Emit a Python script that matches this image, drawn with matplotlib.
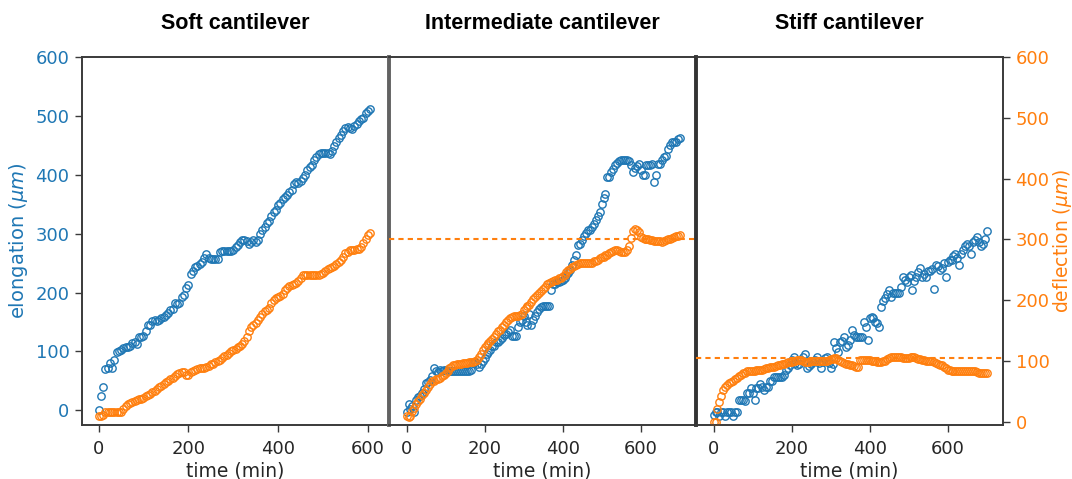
import matplotlib
matplotlib.use("Agg")
import matplotlib.pyplot as plt
import numpy as np

# sampling every 5 minutes
time_soft = np.arange(0, 610, 5)
time_mid = np.arange(0, 705, 5)
time_stiff = np.arange(0, 705, 5)

elong_soft = [0, 25, 40, 70, 72, 80, 72, 86, 99, 100, 102, 106, 108, 108, 110, 114, 116, 112, 124, 125,
              126, 135, 144, 145, 152, 153, 152, 153, 157, 158, 162, 165, 170, 172, 182, 180, 183, 192, 196, 207,
              213, 232, 236, 243, 245, 249, 252, 258, 266, 259, 257, 257, 257, 257, 268, 270, 270, 270, 270, 270,
              273, 277, 280, 286, 289, 290, 288, 282, 286, 290, 286, 290, 300, 306, 312, 318, 322, 330, 336, 340,
              348, 352, 358, 362, 366, 370, 374, 385, 388, 386, 390, 395, 400, 408, 413, 417, 425, 430, 436, 437,
              437, 437, 437, 436, 440, 448, 455, 462, 468, 474, 480, 481, 480, 478, 483, 486, 492, 495, 497, 505,
              508, 511]
defl_soft = [9, 10, 12, 16, 16, 17, 17, 17, 17, 17, 17, 22, 27, 29, 31, 33, 35, 36, 37, 38,
             39, 42, 45, 46, 49, 51, 54, 57, 59, 62, 65, 67, 70, 73, 76, 79, 80, 82, 82, 78,
             78, 82, 84, 86, 87, 88, 88, 89, 90, 92, 95, 96, 98, 100, 102, 105, 108, 110, 113, 116,
             118, 120, 123, 125, 128, 133, 140, 150, 156, 160, 162, 168, 173, 178, 183, 184, 188, 195, 200, 204,
             206, 207, 210, 217, 220, 223, 225, 227, 229, 232, 236, 241, 242, 242, 242, 242, 242, 242, 242, 243,
             245, 248, 251, 253, 255, 257, 260, 263, 267, 272, 277, 280, 282, 282, 283, 284, 285, 287, 294, 300,
             307, 310]

elong_mid = [-3, 11, 2, 7, -3, 18, 22, 25, 30, 36, 46, 48, 51, 59, 72, 66, 65, 68, 67, 68,
             68, 67, 67, 67, 67, 67, 67, 67, 67, 67, 67, 67, 67, 68, 80, 82, 78, 74, 78, 84,
             88, 95, 99, 103, 109, 110, 116, 116, 119, 122, 128, 130, 133, 136, 126, 126, 126, 142, 150, 153,
             160, 150, 144, 163, 144, 154, 160, 167, 172, 175, 177, 177, 177, 177, 205, 215, 215, 218, 218, 220,
             221, 225, 229, 233, 238, 247, 255, 263, 280, 282, 289, 296, 301, 306, 306, 312, 316, 323, 330, 337,
             351, 360, 368, 396, 396, 405, 410, 416, 420, 423, 425, 425, 425, 425, 424, 416, 404, 412, 415, 418,
             408, 399, 399, 416, 416, 416, 418, 388, 399, 418, 418, 425, 430, 432, 443, 450, 456, 456, 456, 460,
             463]
defl_mid = [10, 8, 10, 18, 23, 30, 34, 38, 45, 48, 52, 57, 62, 67, 68, 70, 70, 73, 75, 78,
            80, 84, 88, 91, 93, 94, 95, 96, 96, 97, 97, 97, 98, 98, 99, 100, 102, 106, 111, 118,
            124, 127, 130, 133, 136, 140, 144, 150, 152, 156, 160, 164, 168, 171, 173, 174, 175, 175, 176, 178,
            184, 188, 191, 193, 197, 202, 205, 208, 212, 215, 218, 222, 226, 228, 230, 232, 233, 234, 236, 237,
            240, 242, 246, 250, 252, 254, 256, 258, 260, 261, 262, 262, 262, 261, 261, 262, 264, 265, 267, 269,
            271, 272, 274, 275, 277, 279, 281, 282, 282, 281, 280, 280, 280, 282, 289, 303, 314, 317, 316, 312,
            304, 302, 301, 301, 300, 299, 299, 298, 298, 297, 297, 296, 298, 299, 300, 301, 303, 304, 305, 306,
            307]

elong_stiff = [-8, -3, -3, -10, -3, -3, -10, -3, -3, -3, -10, -3, -3, 17, 17, 17, 16, 29, 29, 37,
               29, 18, 37, 37, 45, 40, 35, 39, 39, 50, 50, 56, 57, 57, 57, 56, 60, 69, 72, 77,
               85, 91, 80, 77, 78, 85, 90, 96, 71, 75, 79, 82, 85, 91, 80, 71, 82, 88, 91, 80,
               71, 79, 116, 105, 99, 116, 118, 125, 108, 111, 120, 137, 128, 125, 125, 125, 125, 150, 142, 119,
               156, 158, 156, 150, 148, 142, 176, 185, 190, 198, 205, 193, 199, 199, 199, 199, 209, 227, 222, 218,
               227, 230, 205, 220, 227, 235, 241, 227, 232, 227, 236, 236, 240, 206, 247, 245, 238, 241, 250, 227,
               252, 255, 255, 262, 266, 259, 247, 265, 272, 279, 282, 279, 266, 286, 290, 294, 286, 279, 282, 291,
               305]
defl_stiff = [0, 0, 22, 32, 42, 52, 58, 61, 64, 65, 67, 70, 72, 75, 78, 80, 81, 83, 83, 83,
              84, 84, 85, 85, 86, 86, 87, 88, 89, 90, 91, 91, 92, 93, 94, 95, 96, 97, 98, 98,
              99, 100, 101, 102, 102, 102, 100, 99, 98, 99, 100, 100, 100, 100, 100, 100, 101, 101, 101, 102,
              103, 104, 105, 105, 102, 100, 98, 97, 96, 95, 94, 93, 92, 91, 91, 102, 102, 102, 102, 102,
              102, 101, 100, 100, 99, 98, 98, 100, 101, 104, 105, 106, 107, 107, 106, 106, 106, 105, 105, 105,
              105, 106, 107, 106, 105, 104, 103, 102, 102, 101, 101, 100, 100, 99, 97, 96, 94, 93, 91, 89,
              86, 85, 83, 83, 83, 83, 83, 83, 83, 83, 83, 83, 83, 83, 83, 82, 81, 80, 80, 80,
              80]

titles = ["Soft cantilever", "Intermediate cantilever", "Stiff cantilever"]
limit_lines = [None, 300, 105]

blue = "#1f77b4"
orange = "#ff7f0e"
spine_c = "#3a3a3a"
text_c = "#262626"

plt.rcParams.update({"font.family": "DejaVu Sans", "font.size": 12,
                     "mathtext.fontset": "dejavusans"})

fig = plt.figure(figsize=(10.72, 4.79), dpi=100)

W, H = 1072, 479
bottom = (H - 425) / H
height = 368 / H
lefts = [82, 389, 696]
width = 307 / W
xlims = [(-37, 647), (-45, 742), (-45, 742)]
border_colors = [None, "#626262", "#333333"]

panels = [(time_soft, elong_soft, defl_soft),
          (time_mid, elong_mid, defl_mid),
          (time_stiff, elong_stiff, defl_stiff)]

for i, (t, el, de) in enumerate(panels):
    ax = fig.add_axes([lefts[i] / W, bottom, width, height])
    ax2 = ax.twinx()
    ax.plot(t, el, 'o', mfc='none', mec=blue, ms=5.3, mew=1.0)
    ax2.plot(t, de, 'o', mfc='none', mec=orange, ms=5.3, mew=1.0)
    if limit_lines[i] is not None:
        ax2.axhline(limit_lines[i], color=orange, lw=1.5, ls=(0, (2.5, 2)))
    ax.set_xlim(*xlims[i])
    ax.set_ylim(-25, 600)
    ax2.set_ylim(-5, 600)
    ax.set_yticks(range(0, 601, 100))
    ax2.set_yticks(range(0, 601, 100))
    ax.set_xticks([0, 200, 400, 600])
    ax.set_xlabel("time (min)", fontsize=13.5, color=text_c, labelpad=2)
    ax.set_title(titles[i], fontsize=15.5, fontweight="bold",
                 family="Liberation Sans", pad=20)
    ax.tick_params(axis='x', length=5, width=1, color=spine_c, labelcolor=text_c, pad=6,
                   labelsize=13)
    for a in (ax, ax2):
        for s in a.spines.values():
            s.set_color(spine_c)
            s.set_linewidth(1.2)
    # inner borders: one heavier line, hide the overlapping spines
    if i > 0:
        ax.spines['left'].set_linewidth(2.8)
        ax.spines['left'].set_color(border_colors[i])
        ax2.spines['left'].set_visible(False)
    if i < 2:
        ax.spines['right'].set_visible(False)
        ax2.spines['right'].set_visible(False)
    if i == 0:
        ax.tick_params(axis='y', length=5, width=1, color=spine_c, labelcolor=blue, pad=4,
                       labelsize=13)
        ax.set_ylabel(r"elongation ($\mu m$)", color=blue, fontsize=14, labelpad=4)
    else:
        ax.tick_params(axis='y', left=False, labelleft=False)
    if i == 2:
        ax2.tick_params(axis='y', length=5, width=1, color=spine_c, labelcolor=orange, pad=4,
                        labelsize=13)
        ax2.set_ylabel(r"deflection ($\mu m$)", color=orange, fontsize=13.5, labelpad=1)
    else:
        ax2.tick_params(axis='y', right=False, labelright=False)

fig.savefig("out.png", dpi=100)
